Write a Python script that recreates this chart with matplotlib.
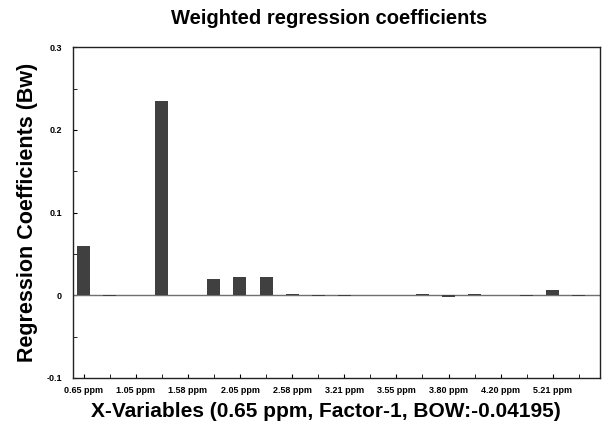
import matplotlib.pyplot as plt
from matplotlib.ticker import MultipleLocator

plt.rcParams['font.family'] = ['Liberation Sans', 'DejaVu Sans']

# one bar per x-variable, labels on every second one
coef = [0.060, -0.0005, 0.0, 0.235, 0.0, 0.020, 0.022, 0.022, 0.001, -0.001,
        -0.001, 0.0, 0.0, 0.001, -0.002, 0.001, 0.0, -0.001, 0.006, -0.001]
tick_labels = ['0.65 ppm', '1.05 ppm', '1.58 ppm', '2.05 ppm', '2.58 ppm',
               '3.21 ppm', '3.55 ppm', '3.80 ppm', '4.20 ppm', '5.21 ppm']
y_ticks = [-0.1, 0, 0.1, 0.2, 0.3]
y_labels = ['-0.1', '0', '0.1', '0.2', '0.3']

fig = plt.figure(figsize=(6.04, 4.29), dpi=100)
ax = fig.add_axes([0.121, 0.119, 0.872, 0.771])

x = list(range(len(coef)))
ax.bar(x, coef, width=0.5, color='#404040', zorder=3)
ax.axhline(0, color='#707070', lw=1, zorder=2)

ax.set_xlim(-0.4, 19.8)
ax.set_ylim(-0.1, 0.3)

ax.set_xticks(x[::2])
ax.set_xticklabels(tick_labels, fontsize=6.5, fontweight='bold')
ax.xaxis.set_minor_locator(MultipleLocator(1))
ax.set_yticks(y_ticks)
ax.set_yticklabels(y_labels, fontsize=6.5, fontweight='bold')
ax.yaxis.set_minor_locator(MultipleLocator(0.05))

ax.tick_params(axis='x', which='both', direction='in', length=3, pad=6)
ax.tick_params(axis='y', which='major', direction='in', length=3, pad=8)
ax.tick_params(axis='y', which='minor', direction='in', length=3)
for s in ax.spines.values():
    s.set_linewidth(1.0)
    s.set_color('#222222')

ax.set_title('Weighted regression coefficients', fontsize=14.5, fontweight='bold',
             pad=17, x=0.487)
ax.set_xlabel('X-Variables (0.65 ppm, Factor-1, BOW:-0.04195)', fontsize=15,
              fontweight='bold')
ax.xaxis.set_label_coords(0.48, -0.073)
ax.set_ylabel('Regression Coefficients (Bw)', fontsize=15.5, fontweight='bold', labelpad=6)

fig.savefig('out.png', dpi=100)
